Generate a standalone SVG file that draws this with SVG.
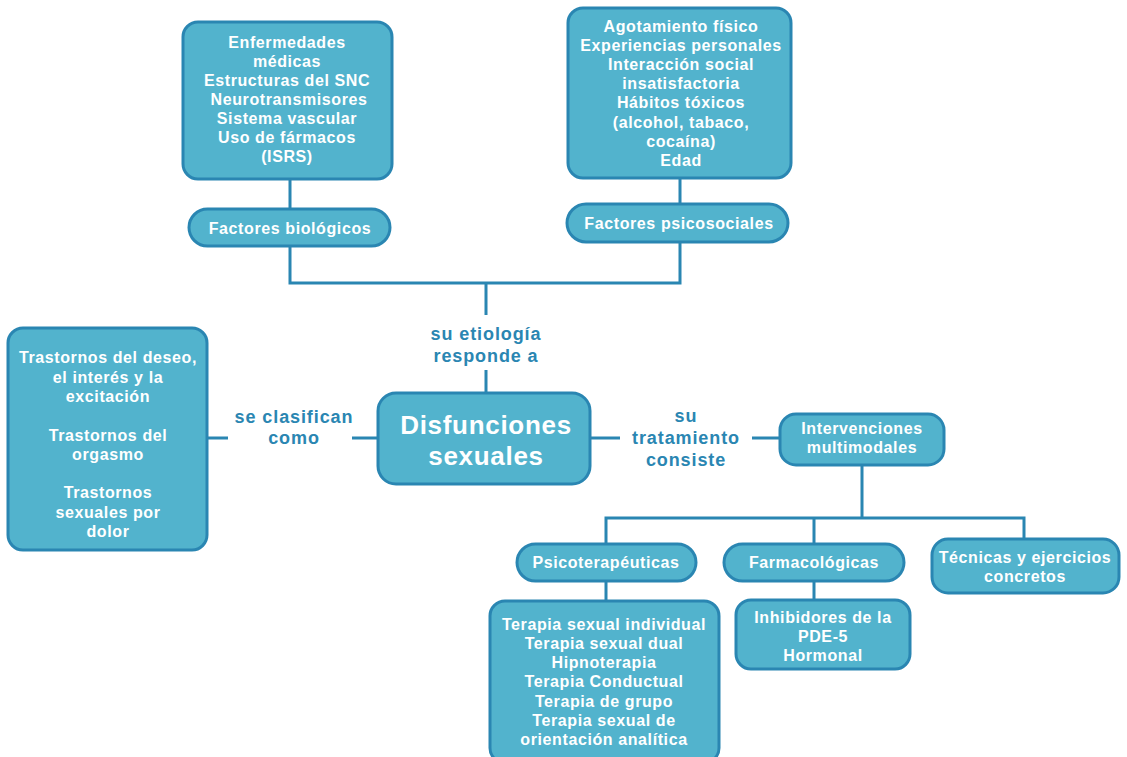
<svg xmlns="http://www.w3.org/2000/svg" width="1127" height="757" viewBox="0 0 1127 757">
<style>
.box{fill:#52b3cd;stroke:#2a86b2;stroke-width:3}
.t{font-family:"Liberation Sans",Arial,sans-serif;font-weight:700;font-size:16px;letter-spacing:0.6px;fill:#ffffff;text-anchor:middle}
.big{font-size:26px;letter-spacing:0.7px}
.lbl{font-family:"Liberation Sans",Arial,sans-serif;font-weight:700;font-size:18px;letter-spacing:0.9px;fill:#2a86b2;text-anchor:middle}
.ln{fill:none;stroke:#2a86b2;stroke-width:3}
</style>
<rect width="1127" height="757" fill="#ffffff"/>
<g id="connectors">
<path class="ln" d="M290 179V209M290 246V283H680V242M680 178V204M486 283V315M486 370V393"/>
<path class="ln" d="M207 438H228M352 438H378M590 438H620M752 438H780"/>
<path class="ln" d="M862 465V518M606 545V518H1024V540M814 518V545M606 581V601M814 581V600"/>
</g>
<g id="labels">
<text class="lbl" x="486" y="340">su etiología</text>
<text class="lbl" x="486" y="362">responde a</text>
<text class="lbl" x="294" y="423">se clasifican</text>
<text class="lbl" x="294" y="444">como</text>
<text class="lbl" x="686" y="422">su</text>
<text class="lbl" x="686" y="444">tratamiento</text>
<text class="lbl" x="686" y="466">consiste</text>
</g>
<g id="n-biologicos-lista">
<rect class="box" x="183" y="22" width="209" height="157" rx="15"/>
<text class="t" x="287" y="48">Enfermedades</text>
<text class="t" x="287" y="67">médicas</text>
<text class="t" x="287" y="86">Estructuras del SNC</text>
<text class="t" x="289" y="105">Neurotransmisores</text>
<text class="t" x="287" y="124">Sistema vascular</text>
<text class="t" x="287" y="143">Uso de fármacos</text>
<text class="t" x="287" y="162">(ISRS)</text>
</g>
<g id="n-biologicos">
<rect class="box" x="189" y="209" width="201" height="37" rx="18.5"/>
<text class="t" x="290" y="234">Factores biológicos</text>
</g>
<g id="n-psicosociales-lista">
<rect class="box" x="568" y="8" width="223" height="170" rx="15"/>
<text class="t" x="681" y="32">Agotamiento físico</text>
<text class="t" x="681" y="51">Experiencias personales</text>
<text class="t" x="681" y="70">Interacción social</text>
<text class="t" x="681" y="89">insatisfactoria</text>
<text class="t" x="681" y="108">Hábitos tóxicos</text>
<text class="t" x="681" y="128">(alcohol, tabaco,</text>
<text class="t" x="681" y="147">cocaína)</text>
<text class="t" x="681" y="166">Edad</text>
</g>
<g id="n-psicosociales">
<rect class="box" x="567" y="204" width="221" height="38" rx="19"/>
<text class="t" x="679" y="229">Factores psicosociales</text>
</g>
<g id="n-disfunciones">
<rect class="box" x="378" y="393" width="212" height="91" rx="18"/>
<text class="t big" x="486" y="434">Disfunciones</text>
<text class="t big" x="486" y="465">sexuales</text>
</g>
<g id="n-clasificacion">
<rect class="box" x="8" y="328" width="199" height="222" rx="15"/>
<text class="t" x="108" y="363">Trastornos del deseo,</text>
<text class="t" x="108" y="383">el interés y la</text>
<text class="t" x="108" y="402">excitación</text>
<text class="t" x="108" y="441">Trastornos del</text>
<text class="t" x="108" y="460">orgasmo</text>
<text class="t" x="108" y="498">Trastornos</text>
<text class="t" x="108" y="518">sexuales por</text>
<text class="t" x="108" y="537">dolor</text>
</g>
<g id="n-intervenciones">
<rect class="box" x="780" y="414" width="164" height="51" rx="16"/>
<text class="t" x="862" y="434">Intervenciones</text>
<text class="t" x="862" y="453">multimodales</text>
</g>
<g id="n-psicoterapeuticas">
<rect class="box" x="517" y="544" width="179" height="37" rx="18.5"/>
<text class="t" x="606" y="568">Psicoterapéuticas</text>
</g>
<g id="n-farmacologicas">
<rect class="box" x="724" y="544" width="180" height="37" rx="18.5"/>
<text class="t" x="814" y="568">Farmacológicas</text>
</g>
<g id="n-tecnicas">
<rect class="box" x="932" y="539" width="187" height="54" rx="16"/>
<text class="t" x="1025" y="563">Técnicas y ejercicios</text>
<text class="t" x="1025" y="582">concretos</text>
</g>
<g id="n-terapias">
<rect class="box" x="490" y="601" width="229" height="162" rx="15"/>
<text class="t" x="604" y="630">Terapia sexual individual</text>
<text class="t" x="604" y="649">Terapia sexual dual</text>
<text class="t" x="604" y="668">Hipnoterapia</text>
<text class="t" x="604" y="687">Terapia Conductual</text>
<text class="t" x="604" y="707">Terapia de grupo</text>
<text class="t" x="604" y="726">Terapia sexual de</text>
<text class="t" x="604" y="745">orientación analítica</text>
</g>
<g id="n-farmacos">
<rect class="box" x="736" y="600" width="174" height="69" rx="15"/>
<text class="t" x="823" y="623">Inhibidores de la</text>
<text class="t" x="823" y="642">PDE-5</text>
<text class="t" x="823" y="661">Hormonal</text>
</g>
</svg>
